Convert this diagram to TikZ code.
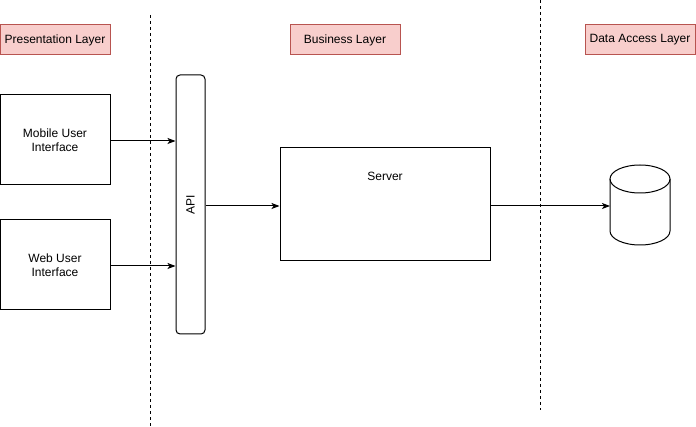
\documentclass[tikz,border=0pt]{standalone}
\usepackage{fontspec}
\setmainfont{Liberation Sans}
\usetikzlibrary{arrows.meta}
\definecolor{layerfill}{HTML}{F8CECC}
\definecolor{layerdraw}{HTML}{B85450}
\tikzset{
  layerbox/.style={draw=layerdraw, fill=layerfill, line width=1pt,
    minimum width=110pt, minimum height=30pt, inner sep=0pt},
  uibox/.style={draw, line width=1pt, minimum width=110pt, minimum height=90pt,
    align=center, inner sep=0pt},
  flow/.style={line width=1pt, -{Stealth[length=8pt,width=6pt,inset=2pt]}},
  tier/.style={line width=0.8pt, dash pattern=on 3pt off 3pt},
}
\begin{document}
\begin{tikzpicture}[x=1pt,y=-1pt,font=\fontsize{12}{14}\selectfont]
\useasboundingbox (0,0) rectangle (696,427);
% layer headings
\node[layerbox] (pres) at (55,40) {Presentation Layer};
\node[layerbox] (bus) at (345,40) {Business Layer};
\node[layerbox] (dal) at (640,40) {Data Access Layer};
% tier separators
\draw[tier] (150,15) -- (150,427);
\draw[tier] (540,0) -- (540,410);
% clients
\node[uibox] (mobile) at (55,140) {Mobile User\\Interface};
\node[uibox] (web) at (55,265) {Web User\\Interface};
% gateway
\node[draw, line width=1pt, rounded corners=4pt, minimum width=29pt,
  minimum height=259pt, inner sep=0pt] (api) at (190.5,204.5) {};
\node[rotate=90] at (api.center) {API};
% server
\node[draw, line width=1pt, minimum width=210pt, minimum height=113pt,
  inner sep=0pt] (server) at (385,204.5) {};
\node at (385,176) {Server};
% database
\draw[line width=1pt] (640,179) ellipse[x radius=30, y radius=14];
\draw[line width=1pt] (610,179) -- (610,231)
  arc[start angle=180, end angle=0, x radius=30, y radius=14] -- (670,179);
\coordinate (db) at (610,206);
% connectors
\draw[flow] (mobile.east |- 0,141) -- (api.west |- 0,141);
\draw[flow] (web.east |- 0,266) -- (api.west |- 0,266);
\draw[flow] (api.east |- 0,206) -- (server.west |- 0,206);
\draw[flow] (server.east |- db) -- (db);
\end{tikzpicture}
\end{document}
